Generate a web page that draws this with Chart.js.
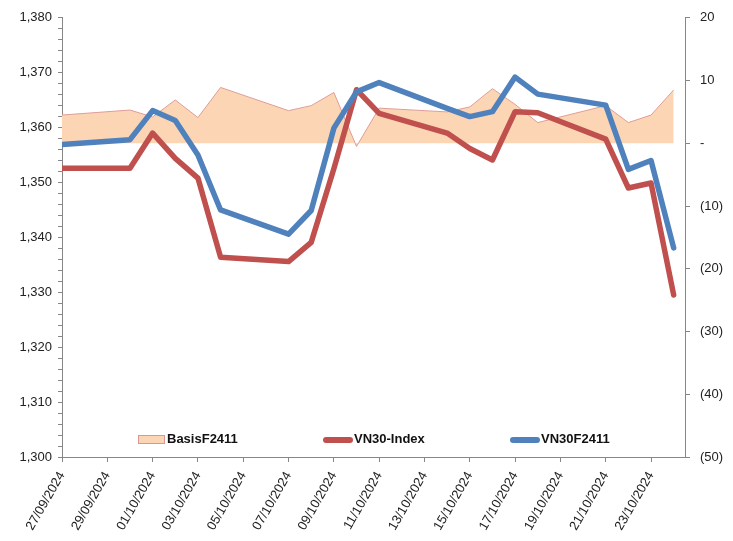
<!DOCTYPE html>
<html>
<head>
<meta charset="utf-8">
<script src="https://cdn.jsdelivr.net/npm/chart.js@4/dist/chart.umd.min.js"></script>
<style>
  body { margin: 0; background: #fff; }
  #wrap { position: relative; width: 733px; height: 541px; }
  .lg { position: absolute; font: bold 13px "Liberation Sans", Arial, sans-serif; color: #111; line-height: 16px; }
  .sw { position: absolute; }
</style>
</head>
<body>
<div id="wrap">
  <canvas id="chart" width="733" height="541"></canvas>
  <div class="sw" style="left:138px;top:435px;width:25px;height:7px;background:#FCD5B4;border:1px solid #D99694;"></div>
  <div class="lg" style="left:167px;top:431px;">BasisF2411</div>
  <div class="sw" style="left:323px;top:437px;width:30px;height:6px;border-radius:3px;background:#C0504D;"></div>
  <div class="lg" style="left:354px;top:431px;">VN30-Index</div>
  <div class="sw" style="left:510px;top:437px;width:30px;height:6px;border-radius:3px;background:#4F81BD;"></div>
  <div class="lg" style="left:541px;top:431px;">VN30F2411</div>
</div>
<script>
const dates = ["27/09/2024","30/09/2024","01/10/2024","02/10/2024","03/10/2024","04/10/2024",
  "07/10/2024","08/10/2024","09/10/2024","10/10/2024","11/10/2024","14/10/2024","15/10/2024",
  "16/10/2024","17/10/2024","18/10/2024","21/10/2024","22/10/2024","23/10/2024","24/10/2024"];

const vn30f2411 = [1356.9, 1357.8, 1363.1, 1361.3, 1355.0, 1345.0, 1340.6, 1344.9, 1359.9, 1366.5,
  1368.2, 1363.5, 1362.0, 1362.9, 1369.2, 1366.1, 1364.1, 1352.4, 1354.0, 1338.1];

const vn30Index = [1352.6, 1352.6, 1359.0, 1354.4, 1350.8, 1336.4, 1335.6, 1339.1, 1352.5, 1366.9,
  1362.6, 1359.0, 1356.2, 1354.1, 1362.9, 1362.7, 1357.9, 1349.0, 1349.9, 1329.5];

const basisF2411 = [4.5, 5.3, 4.2, 6.9, 4.1, 8.9, 5.2, 6.0, 8.1, -0.5,
  5.6, 5.0, 5.8, 8.7, 6.2, 3.3, 6.0, 3.3, 4.5, 8.5];

const DAY = 86400000;
function parseDate(s) {
  const [d, m, y] = s.split("/").map(Number);
  return Date.UTC(y, m - 1, d);
}
const base = parseDate(dates[0]);
const xs = dates.map(d => (parseDate(d) - base) / DAY);

function fmtDay(v) {
  const d = new Date(base + v * DAY);
  const dd = String(d.getUTCDate()).padStart(2, "0");
  const mm = String(d.getUTCMonth() + 1).padStart(2, "0");
  return `${dd}/${mm}/${d.getUTCFullYear()}`;
}

const pts = (arr) => arr.map((y, i) => ({ x: xs[i], y }));

const axisColor = "#868686";
const font = { family: "'Liberation Sans', Arial, sans-serif", size: 13 };

new Chart(document.getElementById("chart"), {
  type: "line",
  data: {
    datasets: [
      {
        label: "VN30F2411", data: pts(vn30f2411), yAxisID: "y",
        borderColor: "#4F81BD", borderWidth: 5.5, pointRadius: 0,
        borderJoinStyle: "round", borderCapStyle: "round", order: 1
      },
      {
        label: "VN30-Index", data: pts(vn30Index), yAxisID: "y",
        borderColor: "#C0504D", borderWidth: 5.5, pointRadius: 0,
        borderJoinStyle: "round", borderCapStyle: "round", order: 2
      },
      {
        label: "BasisF2411", data: pts(basisF2411), yAxisID: "y1",
        borderColor: "#DE9E98", backgroundColor: "#FCD5B4", borderWidth: 1,
        pointRadius: 0, fill: "origin", order: 3
      }
    ]
  },
  options: {
    responsive: false,
    animation: false,
    devicePixelRatio: 1,
    layout: { padding: { top: 15, left: 0, right: 0, bottom: 0 } },
    plugins: { legend: { display: false }, tooltip: { enabled: false } },
    scales: {
      x: {
        type: "linear", min: 0, max: 27.5,
        afterFit: (s) => { s.height = 84; },
        border: { color: axisColor },
        grid: { drawOnChartArea: false, color: axisColor, tickLength: 5 },
        ticks: {
          stepSize: 2, includeBounds: false, autoSkip: false,
          minRotation: 60, maxRotation: 60, padding: 7,
          color: "#222", font, callback: (v) => fmtDay(v)
        }
      },
      y: {
        position: "left", min: 1300, max: 1380,
        afterFit: (s) => { s.width = 62; },
        border: { color: axisColor },
        grid: { drawOnChartArea: false, color: axisColor, tickLength: 4 },
        ticks: {
          stepSize: 2, includeBounds: false, autoSkip: false, padding: 6,
          color: "#222", font,
          callback: (v) => (v % 10 === 0 ? v.toLocaleString("en-US") : "")
        }
      },
      y1: {
        position: "right", min: -50, max: 20,
        afterFit: (s) => { s.width = 48; },
        border: { color: axisColor },
        grid: { drawOnChartArea: false, color: axisColor, tickLength: 5 },
        ticks: {
          stepSize: 10, padding: 10, color: "#222", font,
          callback: (v) => (v === 0 ? "-" : v < 0 ? `(${-v})` : String(v))
        }
      }
    }
  }
});
</script>
</body>
</html>
